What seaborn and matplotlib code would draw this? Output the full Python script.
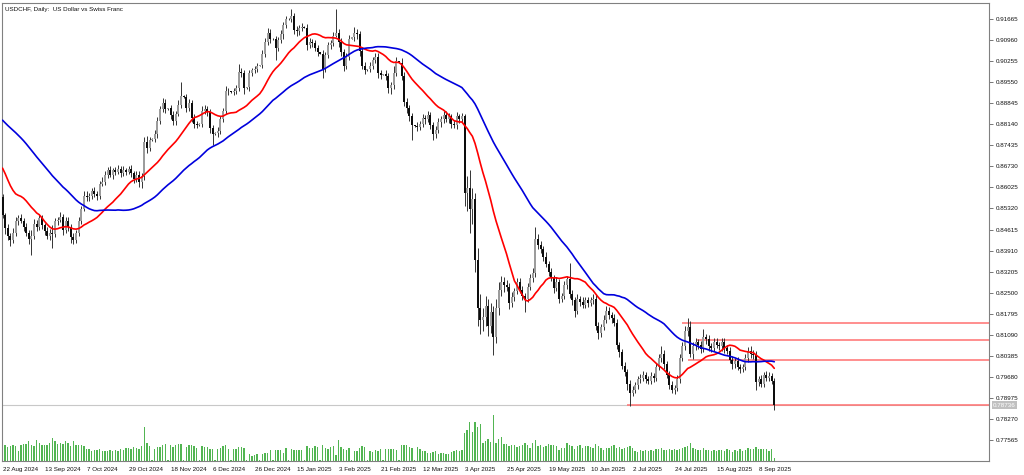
import numpy as np
import pandas as pd
import matplotlib
matplotlib.use("Agg")
import matplotlib.pyplot as plt
import matplotlib.transforms as mtransforms
import seaborn as sns

# daily closes before the first visible bar (only used to start the moving averages)
history = [0.891,
           0.888, 0.884, 0.884, 0.889, 0.893,
           0.893, 0.894, 0.896, 0.897, 0.899,
           0.903, 0.903, 0.902, 0.901, 0.896,
           0.897, 0.898, 0.899, 0.895, 0.896,
           0.897, 0.894, 0.887, 0.889, 0.889,
           0.890, 0.889, 0.887, 0.884, 0.883,
           0.886, 0.882, 0.876, 0.872, 0.860,
           0.856, 0.859, 0.863, 0.864, 0.866,
           0.866, 0.867, 0.862, 0.868, 0.869,
           0.864, 0.863, 0.857]

# visible bars, 22 Aug 2024 .. 16 Sep 2025 (16 bars per row = one date label)
close = [
    0.8510, 0.8465, 0.8440, 0.8425, 0.8450, 0.8490, 0.8500, 0.8490, 0.8470, 0.8450, 0.8430, 0.8440, 0.8480, 0.8470, 0.8500, 0.8475,
    0.8455, 0.8440, 0.8450, 0.8445, 0.8490, 0.8495, 0.8505, 0.8460, 0.8490, 0.8470, 0.8435, 0.8425, 0.8450, 0.8490, 0.8530, 0.8575,
    0.8570, 0.8575, 0.8590, 0.8580, 0.8575, 0.8615, 0.8620, 0.8645, 0.8660, 0.8645, 0.8660, 0.8655, 0.8665, 0.8650, 0.8660, 0.8655,
    0.8665, 0.8650, 0.8630, 0.8645, 0.8620, 0.8640, 0.8755, 0.8735, 0.8760, 0.8765, 0.8780, 0.8825, 0.8865, 0.8885, 0.8865, 0.8868,
    0.8845, 0.8825, 0.8850, 0.8880, 0.8910, 0.8905, 0.8870, 0.8885, 0.8835, 0.8815, 0.8810, 0.8815, 0.8860, 0.8865, 0.8855, 0.8800,
    0.8780, 0.8785, 0.8790, 0.8830, 0.8860, 0.8925, 0.8925, 0.8922, 0.8925, 0.8935, 0.8990, 0.8985, 0.8935, 0.8938, 0.8985, 0.8995,
    0.9000, 0.9010, 0.9012, 0.9050, 0.9090, 0.9120, 0.9100, 0.9098, 0.9070, 0.9095, 0.9115, 0.9145, 0.9165, 0.9168, 0.9175, 0.9130,
    0.9125, 0.9135, 0.9140, 0.9138, 0.9080, 0.9090, 0.9085, 0.9070, 0.9055, 0.9050, 0.9000, 0.9045, 0.9080, 0.9085, 0.9110, 0.9120,
    0.9090, 0.9055, 0.9010, 0.9040, 0.9100, 0.9105, 0.9120, 0.9115, 0.9060, 0.9010, 0.8995, 0.8998, 0.9010, 0.9030, 0.9040, 0.8985,
    0.8980, 0.8982, 0.8975, 0.8935, 0.8945, 0.8985, 0.9025, 0.9020, 0.8975, 0.8890, 0.8870, 0.8840, 0.8810, 0.8808, 0.8805, 0.8815,
    0.8835, 0.8830, 0.8845, 0.8810, 0.8780, 0.8795, 0.8820, 0.8830, 0.8845, 0.8830, 0.8840, 0.8815, 0.8810, 0.8840, 0.8830, 0.8840,
    0.8585, 0.8600, 0.8530, 0.8565, 0.8360, 0.8200, 0.8160, 0.8170, 0.8205, 0.8140, 0.8185, 0.8100, 0.8200, 0.8260, 0.8285, 0.8275,
    0.8270, 0.8215, 0.8235, 0.8255, 0.8285, 0.8260, 0.8240, 0.8230, 0.8270, 0.8300, 0.8315, 0.8430, 0.8410, 0.8395, 0.8370, 0.8345,
    0.8320, 0.8300, 0.8265, 0.8285, 0.8230, 0.8240, 0.8275, 0.8295, 0.8245, 0.8225, 0.8190, 0.8230, 0.8220, 0.8210, 0.8225, 0.8215,
    0.8225, 0.8230, 0.8140, 0.8115, 0.8135, 0.8160, 0.8190, 0.8175, 0.8165, 0.8150, 0.8075, 0.8050, 0.8005, 0.7985, 0.7945, 0.7915,
    0.7925, 0.7940, 0.7960, 0.7965, 0.7975, 0.7960, 0.7955, 0.7970, 0.7965, 0.8000, 0.8030, 0.8045, 0.8010, 0.7975, 0.7940, 0.7925,
    0.7930, 0.7960, 0.8030, 0.8070, 0.8120, 0.8135, 0.8045, 0.8070, 0.8085, 0.8075, 0.8060, 0.8100, 0.8095, 0.8070, 0.8065, 0.8085,
    0.8075, 0.8070, 0.8085, 0.8065, 0.8055, 0.8025, 0.8010, 0.8020, 0.8000, 0.7995, 0.8000, 0.8030, 0.8055, 0.8045, 0.8040, 0.7950,
    0.7960, 0.7945, 0.7975, 0.7965, 0.7970, 0.7955, 0.78736]

# upper / lower wick beyond the body, in pips
up_pips = [
    12, 8, 15, 10, 18, 14, 9, 12, 10, 15, 9, 20, 16, 12, 14, 10,
    10, 14, 12, 25, 11, 9, 16, 10, 14, 12, 9, 15, 11, 13, 10, 14,
    15, 10, 12, 14, 11, 10, 16, 12, 10, 14, 9, 11, 12, 10, 13, 9,
    10, 12, 9, 14, 11, 12, 15, 20, 12, 2, 14, 12, 10, 16, 12, 2,
    12, 14, 10, 15, 45, 3, 12, 14, 10, 12, 9, 2, 14, 12, 10, 11,
    11, 2, 14, 12, 10, 16, 12, 2, 10, 12, 25, 14, 10, 2, 12, 9,
    10, 9, 2, 12, 14, 18, 12, 2, 10, 12, 14, 11, 12, 2, 25, 12,
    12, 10, 14, 2, 12, 14, 10, 12, 11, 2, 14, 12, 10, 11, 14, 80,
    14, 12, 10, 14, 12, 2, 20, 12, 10, 14, 12, 2, 12, 10, 14, 11,
    12, 2, 14, 10, 12, 25, 14, 2, 16, 14, 12, 10, 12, 2, 14, 10,
    12, 10, 14, 11, 10, 12, 15, 10, 12, 14, 11, 10, 12, 14, 10, 12,
    10, 40, 60, 35, 20, 40, 45, 30, 35, 25, 30, 20, 30, 25, 20, 18,
    16, 14, 18, 12, 15, 14, 12, 10, 14, 12, 16, 40, 18, 14, 12, 15,
    12, 14, 10, 16, 12, 10, 14, 12, 55, 14, 12, 16, 10, 14, 12, 10,
    12, 14, 15, 12, 10, 14, 16, 12, 10, 14, 12, 10, 12, 14, 10, 12,
    14, 12, 10, 14, 12, 10, 12, 14, 11, 16, 14, 25, 12, 10, 12, 14,
    12, 14, 16, 14, 18, 30, 20, 14, 12, 10, 14, 30, 12, 14, 10, 12,
    12, 10, 14, 12, 10, 14, 12, 10, 14, 12, 10, 14, 12, 16, 12, 14,
    12, 14, 10, 12, 14, 10, 8]
dn_pips = [
    10, 18, 12, 20, 9, 11, 15, 8, 14, 10, 16, 55, 10, 14, 9, 12,
    13, 9, 15, 45, 10, 12, 9, 18, 10, 14, 20, 12, 10, 9, 11, 8,
    12, 14, 10, 9, 13, 11, 8, 10, 12, 9, 14, 10, 9, 12, 8, 11,
    9, 11, 14, 10, 16, 20, 14, 18, 10, 2, 9, 12, 11, 10, 14, 2,
    15, 12, 14, 10, 12, 3, 16, 11, 12, 14, 10, 2, 9, 13, 12, 15,
    35, 2, 12, 10, 9, 12, 14, 2, 11, 10, 9, 13, 20, 2, 12, 8,
    8, 10, 2, 9, 11, 10, 14, 2, 40, 12, 10, 14, 9, 2, 12, 14,
    14, 12, 10, 2, 16, 12, 11, 10, 14, 2, 30, 12, 10, 14, 9, 3,
    16, 14, 18, 12, 10, 2, 12, 14, 16, 12, 14, 2, 10, 12, 11, 15,
    14, 2, 12, 15, 20, 12, 10, 2, 14, 16, 18, 14, 50, 2, 12, 11,
    11, 14, 10, 12, 20, 12, 10, 14, 11, 10, 12, 14, 10, 12, 11, 10,
    45, 60, 80, 50, 40, 60, 50, 40, 30, 35, 25, 58, 20, 25, 20, 22,
    14, 18, 12, 14, 10, 12, 16, 45, 12, 10, 14, 12, 15, 12, 14, 10,
    14, 12, 16, 10, 14, 12, 10, 14, 12, 16, 20, 12, 14, 10, 12, 14,
    10, 12, 14, 20, 12, 10, 12, 14, 16, 12, 14, 16, 12, 14, 20, 43,
    12, 10, 14, 12, 10, 14, 12, 10, 13, 12, 10, 12, 14, 12, 14, 10,
    14, 10, 12, 10, 12, 14, 10, 16, 12, 14, 12, 10, 16, 14, 12, 10,
    10, 12, 14, 16, 12, 10, 14, 12, 10, 14, 12, 10, 12, 14, 12, 25,
    14, 12, 10, 12, 10, 12, 17]

# tick volume (hundreds)
volume = [
    160, 160, 145, 155, 165, 150, 105, 165, 170, 175, 200, 160, 150, 210, 185, 165,
    165, 165, 185, 235, 200, 175, 180, 175, 200, 185, 155, 200, 165, 160, 160, 155,
    125, 125, 105, 115, 110, 120, 105, 105, 105, 115, 105, 115, 105, 125, 110, 135,
    130, 125, 140, 130, 120, 150, 340, 185, 155, 15, 120, 140, 145, 165, 175, 15,
    165, 140, 165, 170, 175, 15, 145, 160, 165, 150, 130, 15, 155, 145, 140, 125,
    120, 15, 120, 135, 150, 165, 120, 15, 120, 120, 145, 140, 130, 15, 75, 55,
    60, 75, 10, 75, 85, 85, 110, 10, 110, 115, 110, 85, 135, 10, 120, 110,
    115, 110, 115, 10, 150, 130, 130, 150, 140, 10, 160, 130, 125, 140, 150, 60,
    210, 145, 120, 110, 135, 10, 105, 105, 135, 150, 140, 10, 105, 95, 110, 105,
    125, 10, 125, 125, 120, 120, 110, 10, 160, 160, 160, 145, 130, 10, 145, 120,
    105, 105, 85, 85, 95, 105, 75, 85, 85, 75, 75, 95, 105, 110, 105, 110,
    280, 310, 390, 290, 390, 340, 370, 180, 200, 220, 190, 460, 180, 220, 240, 170,
    175, 150, 165, 160, 145, 150, 165, 185, 165, 135, 180, 210, 150, 160, 140, 150,
    170, 165, 160, 155, 110, 135, 135, 185, 165, 150, 125, 150, 165, 130, 155, 150,
    145, 130, 175, 150, 135, 110, 135, 130, 150, 160, 130, 140, 120, 135, 140, 150,
    130, 105, 95, 110, 105, 110, 100, 115, 100, 120, 120, 130, 110, 115, 120, 110,
    120, 115, 125, 130, 140, 150, 180, 135, 125, 115, 110, 130, 110, 115, 100, 110,
    105, 110, 115, 105, 120, 110, 95, 110, 105, 120, 105, 115, 135, 125, 120, 140,
    125, 120, 125, 120, 100, 120, 28]

date_labels = ["22 Aug 2024", "13 Sep 2024", "7 Oct 2024", "29 Oct 2024", "18 Nov 2024",
               "6 Dec 2024", "26 Dec 2024", "15 Jan 2025", "3 Feb 2025", "21 Feb 2025",
               "12 Mar 2025", "3 Apr 2025", "25 Apr 2025", "19 May 2025", "10 Jun 2025",
               "2 Jul 2025", "24 Jul 2025", "15 Aug 2025", "8 Sep 2025"]

# horizontal levels drawn on the chart
level_price = [0.81485, 0.80245, 0.80915, 0.78737]
level_start = [259, 261, 264, 238]
bid = 0.78736

sns.set_theme(style="white")
plt.rcParams['font.family'] = ['Liberation Sans', 'DejaVu Sans']

closes = np.array(close)
n = len(closes)
bars = np.arange(n)
opens = np.concatenate([[history[-1]], closes[:-1]])
highs = np.maximum(opens, closes) + np.array(up_pips) * 1e-4
lows = np.minimum(opens, closes) - np.array(dn_pips) * 1e-4

full = pd.Series(history + close)
ma_fast = full.rolling(20).mean().iloc[-n:].to_numpy()
ma_slow = full.rolling(50).mean().iloc[-n:].to_numpy()

x_left, x_right = -0.2, 375.8

fig = plt.figure(figsize=(10.24, 4.75), dpi=100)
ax = fig.add_axes([2 / 1024, 14 / 475, 987 / 1024, 458 / 475])

# volumes on a twin axis, kept behind the price
axv = ax.twinx()
ax.set_zorder(axv.get_zorder() + 1)
ax.patch.set_visible(False)
axv.bar(bars, volume, width=0.55, color='#52b552', linewidth=0)
axv.set_ylim(0, max(volume) * 10)
axv.set_yticks([])
for s in axv.spines.values():
    s.set_visible(False)

# bid line and drawn levels
ax.axhline(bid, color='#c8c8c8', linewidth=0.8, zorder=0.5)
ax.hlines(level_price, level_start, x_right, color='#ff7070', linewidth=1.1, zorder=1)

# candles
bull = closes >= opens
body_low = np.minimum(opens, closes)
body_h = np.maximum(np.abs(closes - opens), 3e-5)
ax.vlines(bars, lows, highs, color='#333333', linewidth=0.7, zorder=2)
ax.bar(bars[bull], body_h[bull], bottom=body_low[bull], width=0.75,
       color='#9c9c9c', linewidth=0, zorder=3)
ax.bar(bars[~bull], body_h[~bull], bottom=body_low[~bull], width=0.75,
       color='#0d0d0d', linewidth=0, zorder=3)

# moving averages
sns.lineplot(x=bars, y=ma_fast, ax=ax, color='#ff0000', linewidth=1.2, zorder=4)
sns.lineplot(x=bars, y=ma_slow, ax=ax, color='#0000dd', linewidth=1.2, zorder=4)

ax.set_xlim(x_left, x_right)
ax.set_ylim(0.76863, 0.92201)
axv.set_xlim(x_left, x_right)

yt = 0.77565 + 0.00705 * np.arange(21)
ax.yaxis.tick_right()
ax.set_yticks(yt)
ax.set_yticklabels([f"{v:.5f}" for v in yt])
ax.set_xticks(np.arange(0, n, 16))
ax.set_xticklabels(date_labels, ha='left')
ax.tick_params(axis='both', direction='out', length=3, width=0.6, color='#606060',
               labelsize=4.5, labelcolor='#111111', pad=1.5)
ax.set_xlabel("")
ax.set_ylabel("")

for s in ax.spines.values():
    s.set_visible(True)
    s.set_color('#808080')
    s.set_linewidth(0.8)

ax.text(0.003, 0.992, "USDCHF, Daily:  US Dollar vs Swiss Franc", transform=ax.transAxes,
        ha='left', va='top', fontsize=4.5, color='#111111')

tr = mtransforms.blended_transform_factory(ax.transAxes, ax.transData)
ax.text(1.004, bid, f"{bid:.5f}", transform=tr, ha='left', va='center', fontsize=4.5,
        color='white', bbox=dict(fc='#c0c0c0', ec='none', pad=0.9), clip_on=False)

fig.savefig("out.png", dpi=100)
